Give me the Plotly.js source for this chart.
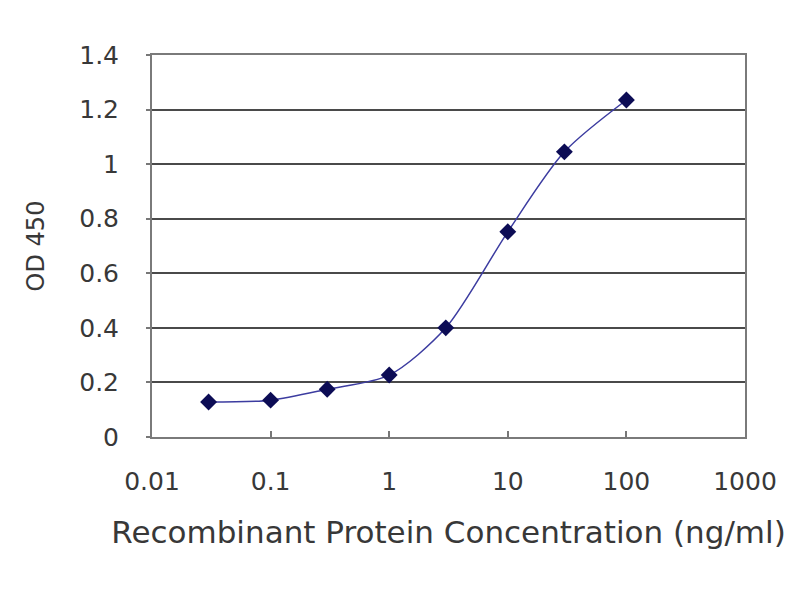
<!DOCTYPE html>
<html>
<head>
<meta charset="utf-8">
<script src="https://cdn.plot.ly/plotly-3.0.1.min.js"></script>
<style>
  body { margin: 0; background: #fff; }
  #od_curve { width: 800px; height: 600px; }
</style>
</head>
<body>
<div id="od_curve"></div>
<script>
OD_CURVE = document.getElementById('od_curve');

// concentration (ng/ml) and OD 450 readings
var concentration = [0.03, 0.1, 0.3, 1, 3, 10, 30, 100];
var od450 = [0.128, 0.135, 0.175, 0.227, 0.40, 0.752, 1.045, 1.235];

var xTicks = [0.01, 0.1, 1, 10, 100, 1000];
var xTickText = ['0.01', '0.1', '1', '10', '100', '1000'];
var yTicks = [0, 0.2, 0.4, 0.6, 0.8, 1, 1.2, 1.4];
var yTickText = ['0', '0.2', '0.4', '0.6', '0.8', '1', '1.2', '1.4'];

function drawCurve()
{
    var curve = {x: concentration,
                 y: od450,
                 type: 'scatter',
                 mode: 'lines+markers',
                 line: {shape: 'spline', smoothing: 0.8, color: '#3c3ca0', width: 1.5},
                 marker: {symbol: 'diamond', size: 13, color: '#0c0c55'}
                };

    var font = {family: 'DejaVu Sans, sans-serif', size: 25, color: '#383838'};

    var layout = {showlegend: false,
                  width: 800, height: 600,
                  margin: {l: 152, r: 55, t: 55, b: 163},
                  paper_bgcolor: '#fff', plot_bgcolor: '#fff',
                  font: font,
                  xaxis: {type: 'log', range: [-2, 3],
                          tickvals: xTicks, ticktext: xTickText,
                          ticks: 'inside', ticklen: 6, tickcolor: '#777', tickwidth: 2,
                          ticklabelstandoff: 21,
                          showgrid: false, zeroline: false,
                          showline: true, linecolor: '#7a7a7a', linewidth: 2, mirror: true,
                          title: {text: 'Recombinant Protein Concentration (ng/ml)', standoff: 26,
                                  font: {size: 31, color: '#383838'}}},
                  yaxis: {range: [0, 1.4],
                          tickvals: yTicks, ticktext: yTickText,
                          ticks: 'outside', ticklen: 4, tickcolor: '#777', tickwidth: 2,
                          ticklabelstandoff: 22,
                          showgrid: true, gridcolor: '#4a4a4a', gridwidth: 2,
                          zeroline: false,
                          showline: true, linecolor: '#7a7a7a', linewidth: 2, mirror: true,
                          title: {text: 'OD 450', standoff: 28,
                                  font: {size: 24, color: '#383838'}}}
                 };

    var config = {'displayModeBar': false, 'staticPlot': true};

    Plotly.newPlot(OD_CURVE, [curve], layout, config);
}

drawCurve();
</script>
</body>
</html>
